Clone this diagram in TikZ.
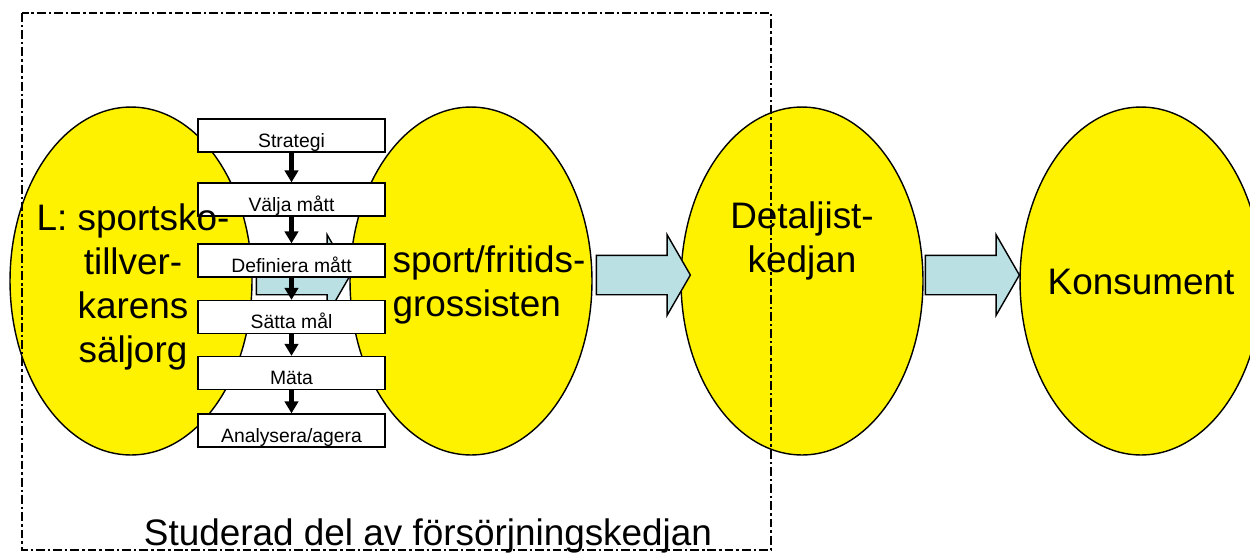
\documentclass[tikz,border=0pt]{standalone}
\usepackage{fontspec}
\setmainfont{Liberation Sans}
\definecolor{flowblue}{HTML}{BAE0E3}
\usetikzlibrary{shapes.geometric, shapes.arrows, arrows.meta}

\begin{document}
\begin{tikzpicture}[x=0.02cm, y=-0.02cm,
  actor/.style={ellipse, draw, fill=yellow, line width=0.8pt,
              minimum width=4.84cm, minimum height=6.96cm, inner sep=0pt},
  bigtxt/.style={font=\fontsize{21}{25.2}\selectfont, inner sep=0pt},
  flow/.style={single arrow, draw, fill=flowblue, line width=0.8pt,
              minimum height=1.88cm, inner xsep=0pt, inner ysep=0.38cm,
              text height=0pt, text depth=0pt,
              single arrow head extend=0.41cm, single arrow tip angle=120,
              anchor=tail},
  stepbox/.style={draw, fill=white, line width=0.8pt, minimum width=3.74cm,
              text height=15.9pt, text depth=2.8pt, inner ysep=0pt,
              font=\fontsize{11}{13}\selectfont},
  link/.style={line width=2.5pt, -{Triangle[length=6.8pt, width=7.6pt]}},
  frame/.style={line width=1.2pt, dash pattern=on 5pt off 1.7pt on 1.4pt off 1.7pt},
]
\useasboundingbox (0,0) rectangle (1250,555);

% parterna i kedjan
\node[actor] (lev) at (131,281) {};
\node[actor] (gross) at (471,281) {};
\node[actor] (detalj) at (802,281) {};
\node[actor] (kons) at (1141,281) {};

% flöden
\node[flow] (a0) at ([shift={(3,-6)}]lev.east) {};
\node[flow] (a1) at ([shift={(3,-6)}]gross.east) {};
\node[flow] (a2) at ([shift={(1,-6)}]detalj.east) {};

% mätprocessen
\node[stepbox] (s1) at (291.5,135.5) {Strategi};
\node[stepbox] (s2) at (291.5,199.5) {Välja mått};
\node[stepbox] (s3) at (291.5,260.5) {Definiera mått};
\node[stepbox] (s4) at (291.5,317) {Sätta mål};
\node[stepbox] (s5) at (291.5,373) {Mäta};
\node[stepbox] (s6) at (291.5,430.5) {Analysera/agera};

\draw[link] (s1) -- (s2);
\draw[link] (s2) -- (s3);
\draw[link] (s3) -- (s4);
\draw[link] (s4) -- (s5);
\draw[link] (s5) -- (s6);

% studerad del
\draw[frame] (22,13) rectangle (771,550);

\node[bigtxt, align=center] (levtxt) at (133,287) {L: sportsko-\\tillver-\\karens\\säljorg};
\node[bigtxt, align=left] (grosstxt) at (489,285) {sport/fritids-\\grossisten};
\node[bigtxt, align=center] (detaljtxt) at (802,241) {Detaljist-\\kedjan};
\node[bigtxt, anchor=base] (konstxt) at (1141,294) {Konsument};
\node[bigtxt, anchor=base] (studerad) at (428,545) {Studerad del av försörjningskedjan};
\end{tikzpicture}
\end{document}
